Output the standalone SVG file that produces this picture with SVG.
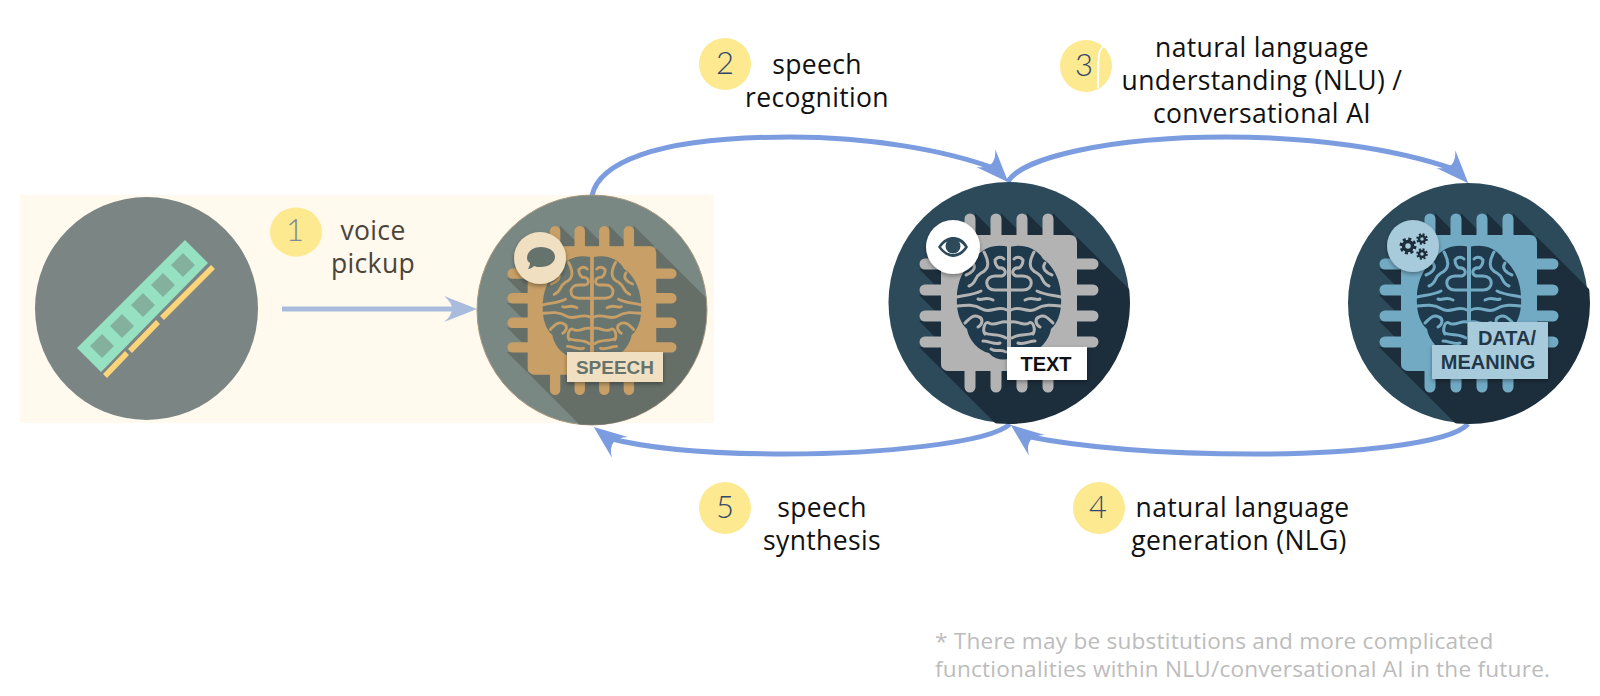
<svg xmlns="http://www.w3.org/2000/svg" width="1600" height="696" viewBox="0 0 1600 696">
<style>
.lbl{font-family:"Open Sans","Liberation Sans",sans-serif;font-size:26.5px;letter-spacing:.36px;fill:#111;text-anchor:middle}
.num{font-family:"Lato","Open Sans",sans-serif;font-weight:300;font-size:31px;fill:#33456c;text-anchor:middle}
.tag{font-family:"Liberation Sans",Arial,sans-serif;font-weight:700;text-anchor:middle}
.foot{font-family:"Open Sans","Liberation Sans",sans-serif;font-size:22.6px;letter-spacing:.22px;fill:#bcbcbc}
.dot{fill:#fde98f}
.edge{fill:none;stroke:#7c9ce0;stroke-width:5}
.ln{fill:none;stroke:var(--c);stroke-width:3;stroke-linecap:round;stroke-linejoin:round}
.pin{fill:none;stroke:var(--c);stroke-width:11;stroke-linecap:round}
.shadowed{filter:url(#ds)}
#speech{--c:#c89f66;--d:#69766f;--s:#666e68;--b:#7a8883;--k:#f1dfc1;--i:#66736d}
#text{--c:#b3b3b3;--d:#1f3a4d;--s:#1c2e3c;--b:#2d4a5b;--k:#fff;--i:#2d4a5b}
#data{--c:#72aac4;--d:#1f3a4d;--s:#1c2e3c;--b:#2d4a5b;--k:#a8cbdb;--i:#1d2d3a}
</style>
<defs>
<filter id="ds" x="-30%" y="-30%" width="160%" height="170%"><feDropShadow dx="0" dy="2" stdDeviation="2.2" flood-color="#000" flood-opacity="0.35"/></filter>
<marker id="headSE" markerUnits="userSpaceOnUse" markerWidth="40" markerHeight="30" refX="15" refY="15" orient="47" viewBox="0 0 40 30"><path d="M0,2 Q18,9 33,15 Q18,21 0,28 Q16,15 0,2Z" fill="#7c9ce0"/></marker>
<marker id="headNW" markerUnits="userSpaceOnUse" markerWidth="40" markerHeight="30" refX="15" refY="15" orient="218" viewBox="0 0 40 30"><path d="M0,2 Q18,9 33,15 Q18,21 0,28 Q16,15 0,2Z" fill="#7c9ce0"/></marker>
<marker id="headpale" markerUnits="userSpaceOnUse" markerWidth="40" markerHeight="30" refX="16" refY="15" orient="auto" viewBox="0 0 40 30"><path d="M0,2 Q18,9 33,15 Q18,21 0,28 Q16,15 0,2Z" fill="#a9bcdd"/></marker>
<clipPath id="clipR"><circle r="121"/></clipPath>
<g id="brainhalf">
<path d="M0,-56 C14,-60 28,-55 34,-44 C44,-38 52,-22 52,-6 C53,8 49,20 42,26 C40,38 30,48 20,50 C14,57 6,57 0,56Z" style="fill:var(--d)"/>
<path class="ln" d="M.5,-57 V57"/>
<path class="ln" d="M2,-13 H14 C25,-13 25,-27 14,-27 H7 C1,-29 4,-36 10,-35 C13,-37 14,-40 14,-43 C11,-47 7,-46 5,-44"/>
<path class="ln" d="M25,-51 C20,-42 19,-34 28,-30 C35,-26 32,-20 40,-17"/>
<path class="ln" d="M36,-40 C32,-34 38,-30 43,-28"/>
<path class="ln" d="M52,-6 C43,-8 36,-8 28,-12 M16,-3 C24,-7 26,-2 31,-4"/>
<path class="ln" d="M2,7 C11,2 19,11 27,6 C35,1 43,2 52,3"/>
<path class="ln" d="M30,14 C25,16 27,22 31,24 M30,14 C36,11 40,16 44,20"/>
<path class="ln" d="M2,19 C8,17 14,24 20,20 C24,17 27,27 24,31"/>
<path class="ln" d="M3,35 C10,30 18,33 24,30 M26,38 C20,38 14,42 9,40"/>
<path class="ln" d="M3,49 C9,45 12,50 18,46"/>
</g>
<g id="chip">
<path d="M68,-66 L220,86 L86,220 L-68,66Z" style="fill:var(--s)"/>
<g style="fill:var(--s)">
<path d="M-90,-34 L-68,-12 V-34Z M-90,-8 L-68,14 V-8Z M-90,18 L-68,40 V18Z M-90,44 L-68,66 V44Z"/>
<path d="M-34,-90 L-12,-68 H-34Z M-8,-90 L14,-68 H-8Z M18,-90 L40,-68 H18Z M44,-90 L66,-68 H44Z"/>
</g>
<path class="pin" d="M-84,-39 H-60 M-84,-13 H-60 M-84,13 H-60 M-84,39 H-60 M60,-39 H84 M60,-13 H84 M60,13 H84 M60,39 H84 M-39,-84 V-60 M-13,-84 V-60 M13,-84 V-60 M39,-84 V-60 M-39,60 V84 M-13,60 V84 M13,60 V84 M39,60 V84"/>
<rect x="-68" y="-68" width="136" height="136" rx="7" style="fill:var(--c)"/>
<use href="#brainhalf"/>
<use href="#brainhalf" transform="scale(-1,1)"/>
</g>
</defs>

<rect x="20" y="195" width="694" height="228" fill="#fff9ee"/>

<g id="connectors">
<path class="edge" marker-end="url(#headSE)" d="M592,196 C598,165 650,137 790,137 C870,137 945,150 996,169"/>
<path class="edge" marker-end="url(#headSE)" d="M1008,182 C1020,158 1110,137 1225,137 C1310,137 1395,148 1456,170"/>
<path class="edge" marker-end="url(#headNW)" d="M1010,424 C990,443 880,454 785,454 C710,454 650,449 608,438"/>
<path class="edge" marker-end="url(#headNW)" d="M1468,424 C1450,444 1350,454 1255,454 C1170,454 1085,448 1025,436"/>
<path fill="none" stroke="#a9bcdd" stroke-width="5" marker-end="url(#headpale)" d="M282,309 H460"/>
</g>

<g id="ram">
<circle cx="146.500" cy="308.500" r="111.500" fill="#7b8584"/>
<path d="M185,240 L208,263 L101,372 L77,348Z" fill="#95e1c2"/>
<g fill="#84b19d">
<rect x="-8.500" y="-8.500" width="17" height="17" transform="translate(102,346) rotate(45)"/>
<rect x="-8.500" y="-8.500" width="17" height="17" transform="translate(122,326) rotate(45)"/>
<rect x="-8.500" y="-8.500" width="17" height="17" transform="translate(143,305) rotate(45)"/>
<rect x="-8.500" y="-8.500" width="17" height="17" transform="translate(163,285) rotate(45)"/>
<rect x="-8.500" y="-8.500" width="17" height="17" transform="translate(183,265) rotate(45)"/>
</g>
<path d="M213,267 L162,318 M158,322 L130,351 M127,353 L105,376" stroke="#fcd57a" stroke-width="5.500" fill="none"/>
</g>

<g id="speech">
<circle cx="592" cy="310" r="115" style="fill:var(--b)" stroke="#a8997f" stroke-width="1"/>
<g transform="translate(592,310.500) scale(.945)">
<g clip-path="url(#clipR)"><use href="#chip"/></g>
</g>
<circle class="shadowed" cx="540" cy="258" r="26" style="fill:var(--k)"/>
<path d="M527,258 C527,251 534,247 541,247 C549,247 555,251 555,257 C555,263 548,267 541,267 C538,267 536,267 534,266 C532,268 530,269 528,269 C529,267 530,265 530,263 C528,262 527,260 527,258Z" style="fill:var(--i)"/>
<rect class="shadowed" x="567" y="352" width="96" height="30" style="fill:var(--k)"/>
<text class="tag" x="615" y="374" font-size="19" fill="#66736d">SPEECH</text>
</g>

<g id="text">
<circle cx="1009" cy="302.500" r="120.500" style="fill:var(--b)"/>
<g transform="translate(1009,303)">
<g clip-path="url(#clipR)"><use href="#chip"/></g>
</g>
<circle class="shadowed" cx="953" cy="247" r="27" style="fill:var(--k)"/>
<path d="M938,247 C943,239 949,237 953,237 C958,237 964,239 968,247 C964,254 958,257 953,257 C949,257 943,254 938,247Z M941,247 C945,252 949,254 953,254 C957,254 961,252 965,247 C961,242 957,240 953,240 C949,240 945,242 941,247Z" style="fill:var(--i)" fill-rule="evenodd"/>
<circle cx="953" cy="246" r="7.500" style="fill:var(--i)"/>
<rect class="shadowed" x="1007" y="347" width="80" height="33" style="fill:var(--k)"/>
<text class="tag" x="1046" y="371" font-size="20" fill="#111">TEXT</text>
</g>

<g id="data">
<circle cx="1468" cy="303" r="120" style="fill:var(--b)"/>
<g transform="translate(1469,303)">
<g clip-path="url(#clipR)"><use href="#chip"/></g>
</g>
<circle class="shadowed" cx="1413" cy="246" r="26" style="fill:var(--k)"/>
<g fill="none" style="stroke:var(--i)">
<circle cx="1408" cy="246" r="4.500" stroke-width="3.500"/>
<circle cx="1408" cy="246" r="7" stroke-width="3" stroke-dasharray="3 2.500"/>
<circle cx="1422" cy="239" r="3" stroke-width="2.500"/>
<circle cx="1422" cy="239" r="4.800" stroke-width="2" stroke-dasharray="2 1.770"/>
<circle cx="1422" cy="254" r="3" stroke-width="2.500"/>
<circle cx="1422" cy="254" r="4.800" stroke-width="2" stroke-dasharray="2 1.770"/>
</g>
<path class="shadowed" d="M1468,322 H1548 V379 H1432 V345 H1468Z" style="fill:var(--k)"/>
<text class="tag" x="1507" y="345" font-size="20" fill="#22384a">DATA/</text>
<text class="tag" x="1488" y="369" font-size="20" fill="#22384a">MEANING</text>
</g>

<g id="step1">
<ellipse class="dot" cx="296" cy="232" rx="26" ry="24.500"/>
<text class="num" x="295" y="241" style="fill:#7f8b96">1</text>
<text class="lbl" x="373" y="240" style="fill:#4b4438">voice</text>
<text class="lbl" x="373" y="273" style="fill:#4b4438">pickup</text>
</g>
<g id="step2">
<circle class="dot" cx="725" cy="64" r="26"/>
<text class="num" x="725" y="74">2</text>
<text class="lbl" x="817" y="74">speech</text>
<text class="lbl" x="817" y="107">recognition</text>
</g>
<g id="step3">
<circle class="dot" cx="1086" cy="66" r="26"/>
<path d="M1104,46 C1098,50 1098,56 1098,88" fill="none" stroke="#fff" stroke-width="2"/>
<text class="num" x="1084" y="76">3</text>
<text class="lbl" x="1262" y="57">natural language</text>
<text class="lbl" x="1262" y="90">understanding (NLU) /</text>
<text class="lbl" x="1262" y="123">conversational AI</text>
</g>
<g id="step4">
<circle class="dot" cx="1099" cy="508" r="26"/>
<text class="num" x="1098" y="518">4</text>
<text class="lbl" x="1242.500" y="516.500">natural language</text>
<text class="lbl" x="1239" y="549.500">generation (NLG)</text>
</g>
<g id="step5">
<circle class="dot" cx="725" cy="508" r="26"/>
<text class="num" x="725" y="518">5</text>
<text class="lbl" x="822" y="516.500">speech</text>
<text class="lbl" x="822" y="549.500">synthesis</text>
</g>
<text class="foot" x="935" y="649">* There may be substitutions and more complicated</text>
<text class="foot" x="935" y="677">functionalities within NLU/conversational AI in the future.</text>
</svg>
